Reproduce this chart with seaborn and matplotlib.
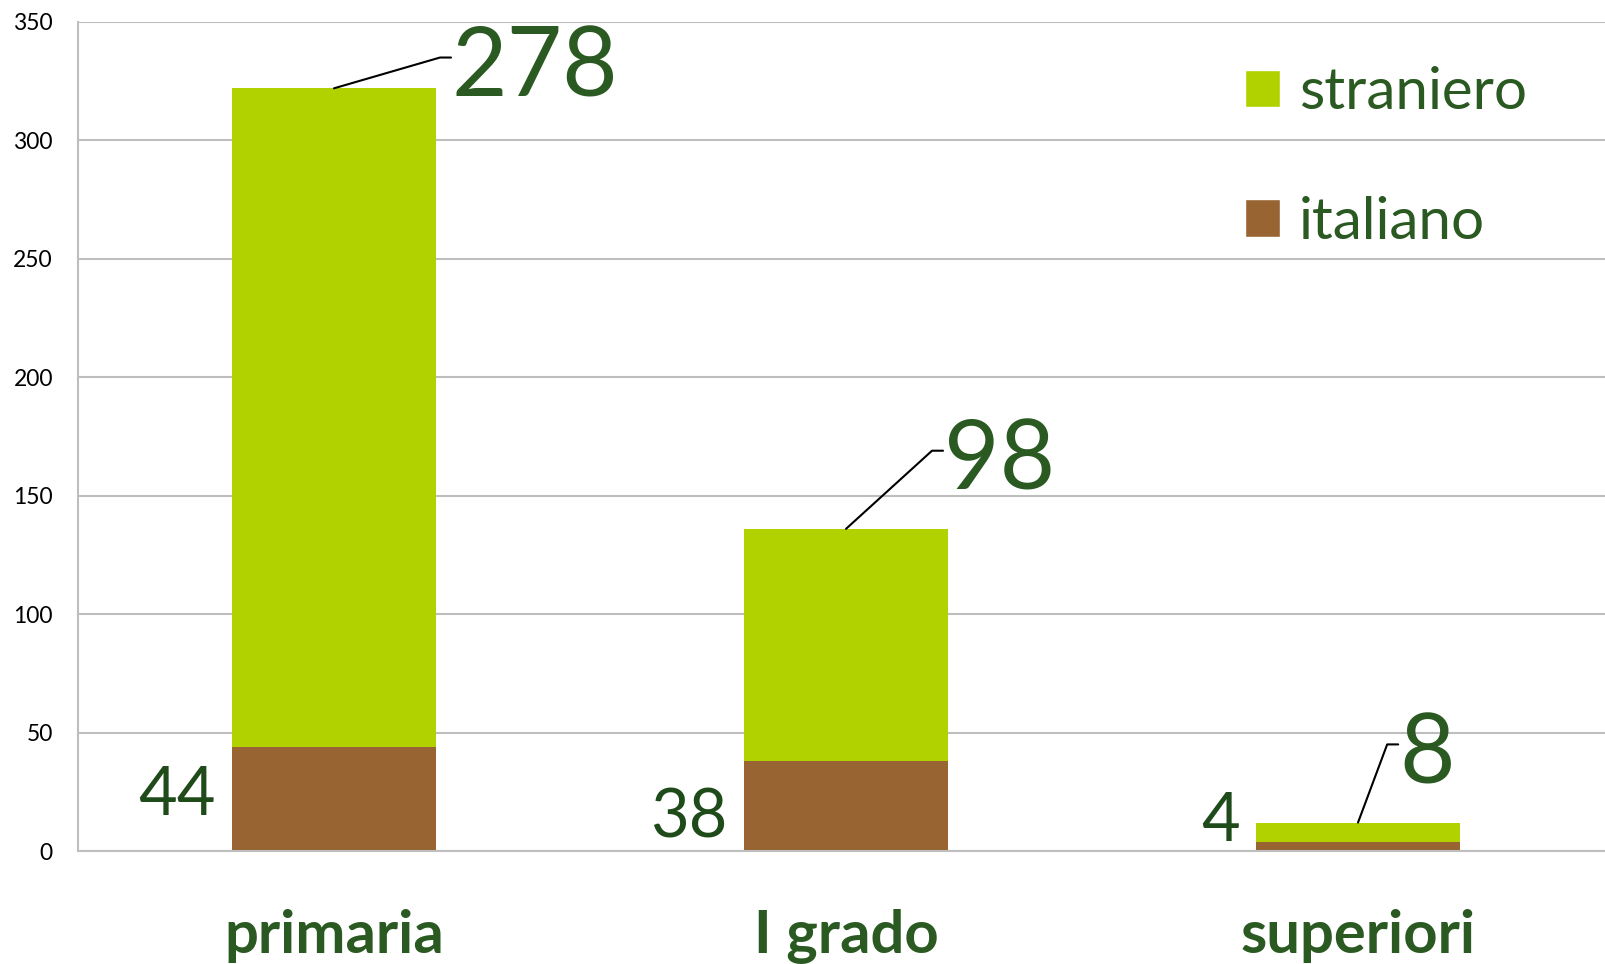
import matplotlib
matplotlib.use('Agg')
import matplotlib.pyplot as plt
from matplotlib.patches import Patch
import seaborn as sns
import pandas as pd

categorie = ['primaria', 'I grado', 'superiori']
italiano = [44, 38, 4]
straniero = [278, 98, 8]

# where the data labels sit (Excel moved them by hand)
ital_label_y = [26, 16.5, 15]
stra_elbow_x = [0.207, 1.168, 2.057]
stra_elbow_y = [335, 169, 45]

verde = '#B2D200'
marrone = '#976432'
testo = '#2A5A22'
testo_scuro = '#1F4A1A'

sns.set_theme(style='white')
plt.rcParams['font.family'] = ['Lato', 'DejaVu Sans']

df = pd.DataFrame({'categoria': categorie, 'italiano': italiano, 'straniero': straniero})
df['totale'] = df['italiano'] + df['straniero']

fig = plt.figure(figsize=(16.06, 9.64), dpi=100)
ax = fig.add_axes([78 / 1606, 113 / 964, 1536 / 1606, 829 / 964])

sns.barplot(ax=ax, data=df, x='categoria', y='totale', color=verde, width=0.4, saturation=1, linewidth=0)
sns.barplot(ax=ax, data=df, x='categoria', y='italiano', color=marrone, width=0.4, saturation=1, linewidth=0)

ax.set_xlim(-0.5, 2.5)
ax.set_ylim(0, 350)
ax.set_yticks(range(0, 351, 50))
ax.yaxis.grid(True, color='#BEBEBE', linewidth=1.5)
ax.set_axisbelow(True)
ax.set_xlabel('')
ax.set_ylabel('')
for s in ['top', 'right']:
	ax.spines[s].set_visible(False)
for s in ['left', 'bottom']:
	ax.spines[s].set_color('#BEBEBE')
	ax.spines[s].set_linewidth(1.5)

ax.tick_params(axis='y', length=0, pad=18, labelsize=16.5, labelcolor='black')
ax.tick_params(axis='x', length=0, pad=42, labelsize=43, labelcolor=testo)
for lab in ax.get_xticklabels():
	lab.set_fontweight('bold')

# italiano labels, left of the bars
for i, v in enumerate(italiano):
	ax.annotate(str(v), xy=(i - 0.2, ital_label_y[i]), xytext=(-16, -7), textcoords='offset pixels',
				ha='right', va='center', fontsize=48, color=testo_scuro)

# straniero labels with leader lines
for i, v in enumerate(straniero):
	top = df['totale'][i]
	ex, ey = stra_elbow_x[i], stra_elbow_y[i]
	ax.plot([i, ex, ex + 0.0215], [top, ey, ey], color='black', linewidth=1.5)
	ax.annotate(str(v), xy=(ex, ey), xytext=(12, -12), textcoords='offset pixels',
				ha='left', va='center', fontsize=69, color=testo)

handles = [Patch(facecolor=verde), Patch(facecolor=marrone)]
ax.legend(handles, ['straniero', 'italiano'], loc='upper left', bbox_to_anchor=(1216 / 1606, 1 - 37 / 964),
		  bbox_transform=fig.transFigure, frameon=False, fontsize=42, labelcolor=testo,
		  handlelength=0.6, handleheight=0.6, handletextpad=0.32, labelspacing=1.31, borderpad=0)

fig.savefig('out.png', dpi=100)
